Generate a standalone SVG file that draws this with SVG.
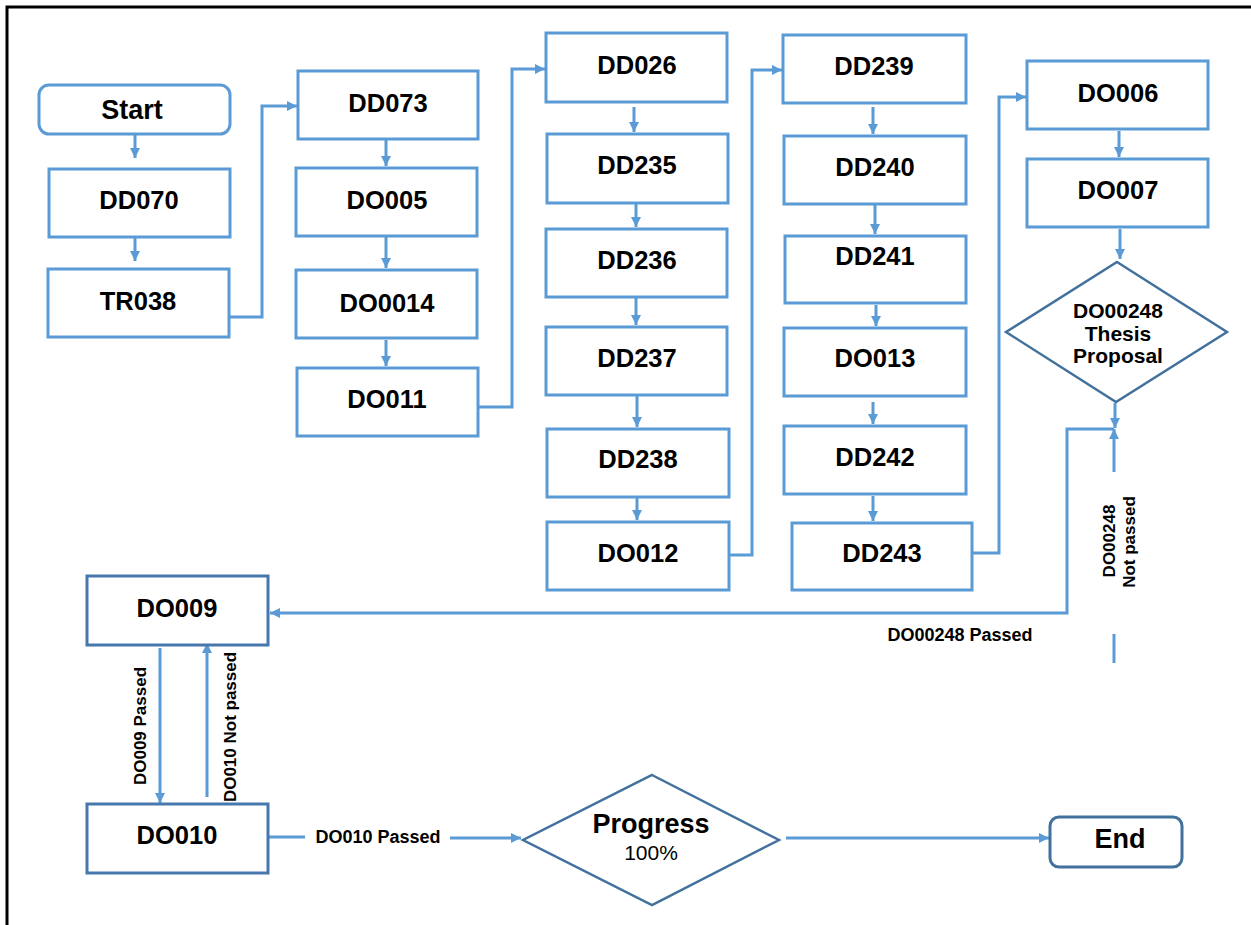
<svg xmlns="http://www.w3.org/2000/svg" width="1251" height="925" viewBox="0 0 1251 925">
<style>
.bx{fill:#fff;stroke:#5B9BD5;stroke-width:3}
.dk{fill:#fff;stroke:#4677AD;stroke-width:3}
.dm{fill:#fff;stroke:#41719C;stroke-width:2.5}
.ln{fill:none;stroke:#5B9BD5;stroke-width:3}
.t{font-family:"Liberation Sans",Arial,sans-serif;font-weight:bold;font-size:25.5px;fill:#000;text-anchor:middle}
.s{font-family:"Liberation Sans",Arial,sans-serif;font-weight:bold;font-size:17px;fill:#000;text-anchor:middle}
.h{font-family:"Liberation Sans",Arial,sans-serif;font-weight:bold;font-size:18px;fill:#000;text-anchor:middle}
</style>
<defs>
<marker id="ah" markerUnits="userSpaceOnUse" markerWidth="12" markerHeight="12" viewBox="0 0 12 12" refX="11" refY="6" orient="auto">
<path d="M1,1 L11,6 L1,11 Z" fill="#5B9BD5"/>
</marker>
</defs>
<rect width="1251" height="925" fill="#fff"/>
<path d="M7,925 V7 H1251" fill="none" stroke="#000" stroke-width="3"/>

<g id="connectors">
<line class="ln" x1="135" y1="134" x2="135" y2="158" marker-end="url(#ah)"/>
<line class="ln" x1="135" y1="237" x2="135" y2="261" marker-end="url(#ah)"/>
<path class="ln" d="M229,317 H262 V106 H297" marker-end="url(#ah)"/>
<line class="ln" x1="386" y1="140" x2="386" y2="166" marker-end="url(#ah)"/>
<line class="ln" x1="386" y1="237" x2="386" y2="268" marker-end="url(#ah)"/>
<line class="ln" x1="386" y1="340" x2="386" y2="366" marker-end="url(#ah)"/>
<path class="ln" d="M478,407 H512 V69 H545" marker-end="url(#ah)"/>
<line class="ln" x1="634" y1="107" x2="634" y2="132" marker-end="url(#ah)"/>
<line class="ln" x1="636" y1="204" x2="636" y2="227" marker-end="url(#ah)"/>
<line class="ln" x1="636" y1="298" x2="636" y2="325" marker-end="url(#ah)"/>
<line class="ln" x1="637" y1="396" x2="637" y2="427" marker-end="url(#ah)"/>
<line class="ln" x1="637" y1="498" x2="637" y2="520" marker-end="url(#ah)"/>
<path class="ln" d="M729,555 H752 V70 H782" marker-end="url(#ah)"/>
<line class="ln" x1="873" y1="107" x2="873" y2="134" marker-end="url(#ah)"/>
<line class="ln" x1="875" y1="205" x2="875" y2="234" marker-end="url(#ah)"/>
<line class="ln" x1="876" y1="305" x2="876" y2="326" marker-end="url(#ah)"/>
<line class="ln" x1="873" y1="402" x2="873" y2="424" marker-end="url(#ah)"/>
<line class="ln" x1="873" y1="496" x2="873" y2="521" marker-end="url(#ah)"/>
<path class="ln" d="M973,553 H999 V97 H1026" marker-end="url(#ah)"/>
<line class="ln" x1="1119" y1="131" x2="1119" y2="157" marker-end="url(#ah)"/>
<line class="ln" x1="1120" y1="229" x2="1120" y2="259" marker-end="url(#ah)"/>
<line class="ln" x1="1115" y1="403" x2="1115" y2="428" marker-end="url(#ah)"/>
<line class="ln" x1="1114" y1="472" x2="1114" y2="429" marker-end="url(#ah)"/>
<path class="ln" d="M1114,429 H1067 V613 H270" marker-end="url(#ah)"/>
<line class="ln" x1="1114" y1="634" x2="1114" y2="663"/>
<line class="ln" x1="160" y1="648" x2="160" y2="803" marker-end="url(#ah)"/>
<line class="ln" x1="207" y1="797" x2="207" y2="643" marker-end="url(#ah)"/>
<line class="ln" x1="268" y1="837" x2="305" y2="837"/>
<line class="ln" x1="450" y1="838" x2="521" y2="838" marker-end="url(#ah)"/>
<line class="ln" x1="786" y1="838" x2="1049" y2="838" marker-end="url(#ah)"/>
<text class="s" transform="translate(146,726) rotate(-90)">DO009 Passed</text>
<text class="s" transform="translate(236,727) rotate(-90)">DO010 Not passed</text>
<text class="s" transform="translate(1115,541) rotate(-90)">DO00248</text>
<text class="s" transform="translate(1135,542) rotate(-90)">Not passed</text>
<text class="h" x="378" y="843">DO010 Passed</text>
<text class="h" x="960" y="641">DO00248 Passed</text>
</g>

<g id="start"><rect class="bx" x="39" y="85" width="191" height="49" rx="10"/><text class="t" x="132" y="119" style="font-size:27px">Start</text></g>
<g id="dd070"><rect class="bx" x="49" y="169" width="181" height="68"/><text class="t" x="139" y="209">DD070</text></g>
<g id="tr038"><rect class="bx" x="48" y="269" width="181" height="68"/><text class="t" x="138" y="310">TR038</text></g>

<g id="dd073"><rect class="bx" x="298" y="71" width="180" height="68"/><text class="t" x="388" y="112">DD073</text></g>
<g id="do005"><rect class="bx" x="296" y="168" width="181" height="68"/><text class="t" x="387" y="209">DO005</text></g>
<g id="do0014"><rect class="bx" x="296" y="270" width="181" height="68"/><text class="t" x="387" y="312">DO0014</text></g>
<g id="do011"><rect class="bx" x="297" y="368" width="181" height="68"/><text class="t" x="387" y="408">DO011</text></g>

<g id="dd026"><rect class="bx" x="546" y="33" width="181" height="69"/><text class="t" x="637" y="74">DD026</text></g>
<g id="dd235"><rect class="bx" x="547" y="134" width="181" height="69"/><text class="t" x="637" y="174">DD235</text></g>
<g id="dd236"><rect class="bx" x="546" y="229" width="181" height="68"/><text class="t" x="637" y="269">DD236</text></g>
<g id="dd237"><rect class="bx" x="546" y="327" width="181" height="68"/><text class="t" x="637" y="367">DD237</text></g>
<g id="dd238"><rect class="bx" x="547" y="429" width="182" height="68"/><text class="t" x="638" y="468">DD238</text></g>
<g id="do012"><rect class="bx" x="547" y="522" width="182" height="68"/><text class="t" x="638" y="562">DO012</text></g>

<g id="dd239"><rect class="bx" x="783" y="35" width="183" height="68"/><text class="t" x="874" y="75">DD239</text></g>
<g id="dd240"><rect class="bx" x="784" y="136" width="182" height="68"/><text class="t" x="875" y="176">DD240</text></g>
<g id="dd241"><rect class="bx" x="785" y="236" width="181" height="67"/><text class="t" x="875" y="265">DD241</text></g>
<g id="do013"><rect class="bx" x="784" y="328" width="182" height="68"/><text class="t" x="875" y="367">DO013</text></g>
<g id="dd242"><rect class="bx" x="784" y="426" width="182" height="68"/><text class="t" x="875" y="466">DD242</text></g>
<g id="dd243"><rect class="bx" x="792" y="523" width="180" height="67"/><text class="t" x="882" y="562">DD243</text></g>

<g id="do006"><rect class="bx" x="1027" y="61" width="181" height="68"/><text class="t" x="1118" y="102">DO006</text></g>
<g id="do007"><rect class="bx" x="1027" y="159" width="181" height="68"/><text class="t" x="1118" y="199">DO007</text></g>
<g id="do00248"><polygon class="dm" points="1117,262 1227,332 1116,402 1006,332"/>
<text class="t" x="1118" y="318" style="font-size:21px">DO00248</text>
<text class="t" x="1118" y="341" style="font-size:21px">Thesis</text>
<text class="t" x="1118" y="363" style="font-size:21px">Proposal</text></g>

<g id="do009"><rect class="dk" x="87" y="576" width="181" height="69"/><text class="t" x="177" y="617">DO009</text></g>
<g id="do010"><rect class="dk" x="87" y="804" width="181" height="69"/><text class="t" x="177" y="844">DO010</text></g>
<g id="progress"><polygon class="dm" points="652,775 779,840 652,905 523,840"/>
<text class="t" x="651" y="833" style="font-size:27px">Progress</text>
<text class="t" x="651" y="860" style="font-size:21px;font-weight:normal">100%</text></g>
<g id="end"><rect class="dm" x="1050" y="817" width="132" height="50" rx="9" style="stroke-width:3"/><text class="t" x="1120" y="848" style="font-size:27px">End</text></g>
</svg>
